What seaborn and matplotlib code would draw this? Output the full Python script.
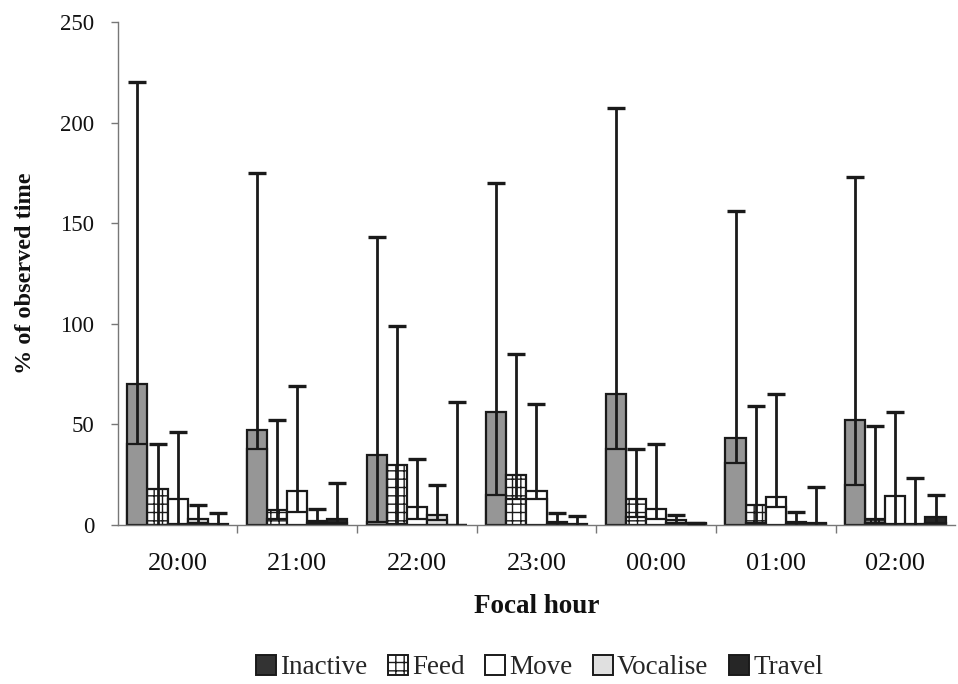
import numpy as np
import pandas as pd
import seaborn as sns
import matplotlib
matplotlib.use("Agg")
import matplotlib.pyplot as plt
from matplotlib.patches import Patch

# ---------------- data ----------------
hours = ["20:00", "21:00", "22:00", "23:00", "00:00", "01:00", "02:00"]
behaviours = ["Inactive", "Feed", "Move", "Vocalise", "Travel"]

inactive = [70, 47, 35, 56, 65, 43, 52]
inactive_low = [40, 38, 1.5, 15, 38, 31, 20]
inactive_up = [220, 175, 143, 170, 207, 156, 173]

feed = [18, 7.5, 30, 25, 13, 10, 3]
feed_low = [0, 3, 0.5, 13, 4, 1, 1]
feed_up = [40, 52, 99, 85, 38, 59, 49]

move = [13, 17, 9, 17, 8, 14, 14.5]
move_low = [0.5, 6.5, 3, 13, 3, 9, 0.5]
move_up = [46, 69, 33, 60, 40, 65, 56]

vocalise = [3, 2, 5, 1.5, 2.5, 1.5, 0.5]
vocalise_low = [1, 1, 2.5, 0.5, 1, 0.5, 0]
vocalise_up = [10, 8, 20, 6, 5, 6.5, 23.5]

travel = [0.5, 3, 0, 0.5, 1, 1, 4]
travel_low = [0, 1, 0, 0, 0.5, 0.5, 1]
travel_up = [6, 21, 61, 4.5, 1, 19, 15]

means = [inactive, feed, move, vocalise, travel]
lows = [inactive_low, feed_low, move_low, vocalise_low, travel_low]
ups = [inactive_up, feed_up, move_up, vocalise_up, travel_up]

colors = ["#969696", "#ffffff", "#ffffff", "#dcdcdc", "#262626"]
legend_colors = ["#333333", "#ffffff", "#ffffff", "#e0e0e0", "#262626"]
hatches = ["", "++", "", "", ""]

rows = []
for b, m, lo, up in zip(behaviours, means, lows, ups):
    for h, mv, lv, uv in zip(hours, m, lo, up):
        rows.append({"hour": h, "behaviour": b, "mean": mv, "low": lv, "up": uv})
df = pd.DataFrame(rows)

# ---------------- style ----------------
sns.set_theme(style="white")
plt.rcParams["font.family"] = ["Liberation Serif", "DejaVu Serif"]
plt.rcParams["hatch.linewidth"] = 1.0
plt.rcParams["hatch.color"] = "#1a1a1a"

fig = plt.figure(figsize=(9.58, 6.84), dpi=100)
ax = fig.add_axes([0.123, 0.2325, 0.874, 0.7355])

palette = dict(zip(behaviours, colors))
common = dict(x="hour", hue="behaviour", order=hours, hue_order=behaviours,
              palette=palette, width=0.84, edgecolor="#1a1a1a", linewidth=1.6,
              saturation=1, errorbar=None, legend=False, ax=ax)
sns.barplot(data=df, y="mean", **common)
sns.barplot(data=df, y="low", **common)

for k in range(10):
    for p in ax.containers[k]:
        p.set_hatch(hatches[k % 5])
        p.set_zorder(2)

# error bars: line from low value to upper value, cap at top only
for i, b in enumerate(behaviours):
    sub = df[df["behaviour"] == b].set_index("hour").loc[hours]
    for p, (h, r) in zip(ax.containers[i], sub.iterrows()):
        cx = p.get_x() + p.get_width() / 2
        ax.vlines(cx, r["low"], r["up"], color="#1a1a1a", lw=2.0, zorder=4)
        ax.plot([cx], [r["up"]], marker="_", ms=13, mew=2.4, color="#1a1a1a", zorder=4)

# ---------------- axes ----------------
ax.set_ylim(0, 250)
ax.set_xlim(-0.5, len(hours) - 0.5)
ax.set_yticks(np.arange(0, 251, 50))
ax.set_xticks(range(len(hours)))
ax.set_xticklabels(hours)
ax.set_xticks(np.arange(0.5, len(hours) - 0.5, 1), minor=True)
ax.tick_params(axis="x", which="major", length=0, pad=20, labelsize=19, labelcolor="#111111")
ax.tick_params(axis="x", which="minor", length=6, width=1, color="#777777", direction="out")
ax.tick_params(axis="y", which="major", length=5, width=1, color="#777777", direction="out",
               pad=12, labelsize=16.5, labelcolor="#111111")
ax.tick_params(bottom=True, left=True, which="both")
ax.tick_params(axis="x", which="major", length=0)

for s in ["top", "right"]:
    ax.spines[s].set_visible(False)
for s in ["left", "bottom"]:
    ax.spines[s].set_color("#777777")
    ax.spines[s].set_linewidth(1.0)

ax.set_xlabel("Focal hour", fontsize=19.5, fontweight="bold", labelpad=14, color="#111111")
ax.set_ylabel("% of observed time", fontsize=17.5, fontweight="bold", labelpad=17, color="#111111")

handles = [Patch(facecolor=c, edgecolor="#1a1a1a", hatch=h, linewidth=1.4)
           for c, h in zip(legend_colors, hatches)]
fig.legend(handles, behaviours, loc="lower center", bbox_to_anchor=(0.563, -0.018),
           ncol=5, frameon=False, fontsize=19.5, handlelength=0.75, handleheight=0.75,
           handletextpad=0.15, columnspacing=0.75, borderaxespad=0.2)

fig.savefig("out.png", dpi=100, facecolor="white")
